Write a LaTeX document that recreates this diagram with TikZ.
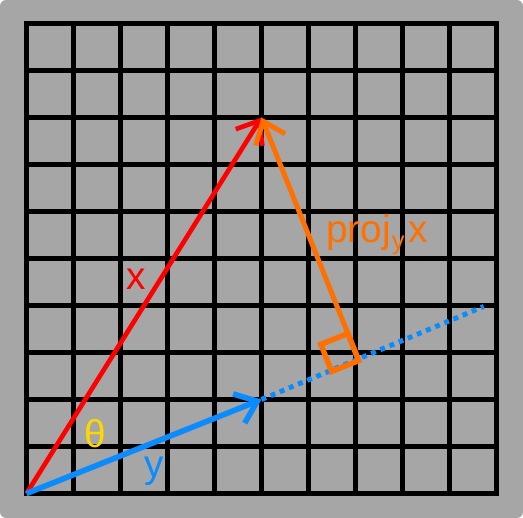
\documentclass[tikz,border=0pt]{standalone}
\usepackage{fontspec}
\setmainfont{Liberation Sans}
\usetikzlibrary{arrows.meta,calc}
\definecolor{bg}{HTML}{A6A6A6}
\definecolor{vred}{HTML}{FF0000}
\definecolor{vorange}{HTML}{FF7000}
\definecolor{vblue}{HTML}{0A8CFF}
\definecolor{vyellow}{HTML}{FFD700}
\tikzset{
  gridline/.style={black, line width=3pt},
  vec/.style={line width=3pt, -{Straight Barb[length=12pt,width=19pt]}},
  lbl/.style={anchor=base, inner sep=0pt, font=\fontsize{23.5}{28}\selectfont},
}
\begin{document}
\begin{tikzpicture}
\useasboundingbox (-0.564,-0.521) rectangle (10.564,10.5);
\fill[bg, rounded corners=0.13cm] (-0.564,-0.521) rectangle (10.564,10.5);
\draw[gridline] (0,0) grid (10,10);
\draw[gridline, line join=miter] (0,0) rectangle (10,10);
\coordinate (O) at (0,0);
\coordinate (X) at (5,8);
\coordinate (Y) at (5,2);
\coordinate (P) at ($(O)!(X)!(Y)$);
\coordinate (E) at (9.73,3.98);
\coordinate (A) at ($(P)!0.62cm!(O)$);
\coordinate (B) at ($(P)!0.62cm!(X)$);
\coordinate (C) at ($(A)+(B)-(P)$);
\draw[vblue, line width=3pt, dash pattern=on 3pt off 3pt] (Y) -- (E);
\draw[vred, vec, line width=2.8pt] (O) -- (X);
\draw[vblue, vec, line width=3.4pt] (O) -- (Y);
\draw[vorange, line width=3.3pt, line join=miter] (P) -- (A) -- (C) -- (B) -- cycle;
\draw[vorange, vec] (P) -- (X);
\node[lbl, text=vred] (lx) at (2.33,4.35) {x};
\node[lbl, text=vyellow] (lt) at (1.46,0.97) {θ};
\node[lbl, text=vblue] (ly) at (2.71,0.35) {y};
\node[lbl, anchor=base west, text=vorange] (lp) at (6.37,5.33) {proj\kern0.5pt\raisebox{-4pt}{\fontsize{15.5}{16}\selectfont y}\kern2.5pt x};
\end{tikzpicture}
\end{document}
